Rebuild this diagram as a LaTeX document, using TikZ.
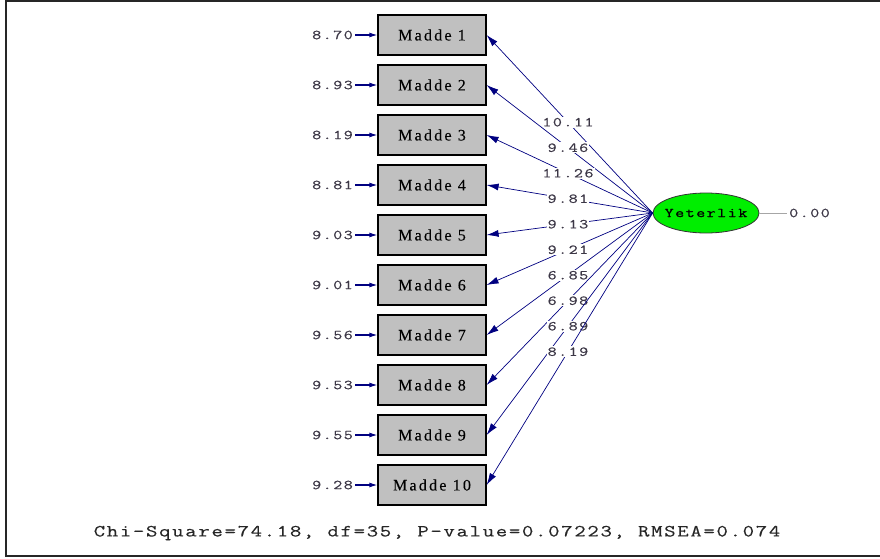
\documentclass[tikz,border=0pt]{standalone}
\usepackage{fontspec}
\setmainfont{Liberation Serif}
\newfontfamily\labfont[FakeStretch=1.3, LetterSpace=11, FakeBold=0.6]{Latin Modern Mono}
\newfontfamily\latfont[FakeStretch=1.3, LetterSpace=11, FakeBold=0.8]{Latin Modern Mono}
\newfontfamily\fitfont[FakeStretch=1.3, LetterSpace=10, FakeBold=0.4]{Latin Modern Mono}
\newfontfamily\boxfont[LetterSpace=14, FakeBold=0.15]{Liberation Serif}
\usetikzlibrary{arrows.meta,shapes.geometric}
\definecolor{pathblue}{RGB}{0,0,128}
\definecolor{boxgray}{RGB}{192,192,192}
\definecolor{labgray}{RGB}{60,55,70}
\definecolor{latgreen}{RGB}{0,238,0}

\begin{document}
\begin{tikzpicture}[x=1pt,y=-1pt,
  item/.style={draw=black, line width=1.2pt, fill=boxgray, minimum width=108pt,
    minimum height=40pt, inner sep=0pt, font=\boxfont\fontsize{16}{16}\selectfont},
  latent/.style={draw=black!80, line width=0.8pt, ellipse, fill=latgreen,
    minimum width=106pt, minimum height=40pt, inner sep=0pt},
  monotext/.style={inner sep=2pt, text=labgray,
    font=\labfont\fontsize{13.5}{13.5}\selectfont},
  errlab/.style={monotext, anchor=east},
  pathlab/.style={monotext, fill=white, inner sep=1pt},
  load/.style={draw=pathblue, line width=0.7pt, -{Latex[length=12pt,width=7pt]}},
  errarrow/.style={draw=pathblue, line width=1.2pt, -{Latex[length=8pt,width=5pt]}},
  frame/.style={draw=black!85, line width=1.6pt}
]
\useasboundingbox (0,0) rectangle (880,559);
% outer frame (open on the right side)
\draw[frame] (880,1) -- (6,1) -- (6,556) -- (880,556);

% latent variable and its disturbance
\node[latent] (lat) at (706,213) {};
\node[inner sep=0pt, text=black, font=\latfont\fontsize{13.5}{13.5}\selectfont]
  (latname) at (lat.center) {Yeterlik};
\node[monotext, anchor=west] (dist) at (787,213) {0.00};
\draw[gray!70, line width=0.8pt] (lat.east) -- (dist.west);

% indicators, error variances and loadings
\foreach \i/\e/\l in {1/8.70/10.11, 2/8.93/9.46, 3/8.19/11.26, 4/8.81/9.81,
    5/9.03/9.13, 6/9.01/9.21, 7/9.56/6.85, 8/9.53/6.98, 9/9.55/6.89, 10/9.28/8.19}{
  \node[item] (m\i) at (432,{35+50*(\i-1)}) {Madde \i};
  \node[errlab] (e\i) at (355,{35+50*(\i-1)}) {\e};
  \draw[errarrow] (e\i.east) -- (m\i.west);
  \draw[load] (lat.west) -- node[pathlab, pos=0.51] {\l} (m\i.east);
}

% fit statistics
\node[font=\fitfont\fontsize{17}{17}\selectfont, text=black!85] (fit) at (437,533)
  {Chi-Square=74.18, df=35, P-value=0.07223, RMSEA=0.074};
\end{tikzpicture}
\end{document}
